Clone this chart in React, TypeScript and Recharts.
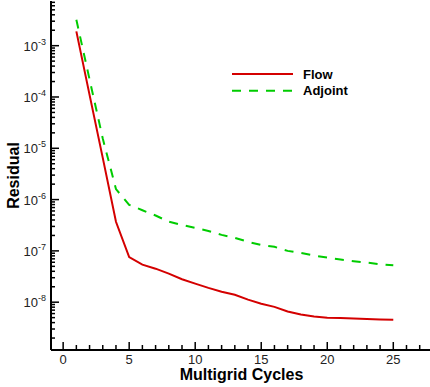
import React from 'react';
import { LineChart, Line, XAxis, YAxis, Label } from 'recharts';

const W = 430;
const H = 387;

const cycles = [1, 2, 3, 4, 5, 6, 7, 8, 9, 10, 11, 12, 13, 14, 15, 16, 17, 18, 19, 20, 21, 22, 23, 24, 25];
const flowResidual = [
  1.9e-3, 1.1e-4, 6.5e-6, 3.7e-7, 7.6e-8, 5.4e-8, 4.5e-8, 3.6e-8, 2.8e-8, 2.3e-8,
  1.9e-8, 1.6e-8, 1.4e-8, 1.12e-8, 9.3e-9, 8.1e-9, 6.6e-9, 5.75e-9, 5.25e-9, 5.0e-9,
  4.9e-9, 4.8e-9, 4.7e-9, 4.6e-9, 4.55e-9,
];
const adjointResidual = [
  3.2e-3, 2.2e-4, 1.55e-5, 1.6e-6, 7.9e-7, 6.2e-7, 4.9e-7, 3.7e-7, 3.2e-7, 2.8e-7,
  2.45e-7, 2.05e-7, 1.8e-7, 1.5e-7, 1.3e-7, 1.2e-7, 1.0e-7, 9.1e-8, 8.1e-8, 7.4e-8,
  6.8e-8, 6.3e-8, 5.9e-8, 5.5e-8, 5.25e-8,
];

const xTicks = [0, 1, 2, 3, 4, 5, 6, 7, 8, 9, 10, 11, 12, 13, 14, 15, 16, 17, 18, 19, 20, 21, 22, 23, 24, 25, 26, 27];
const xLabelEvery = 5;
const decades = [-9, -8, -7, -6, -5, -4, -3];
const mantissas = [1, 2, 3, 4, 5, 6, 7, 8, 9];

const X_DOMAIN: [number, number] = [-0.92, 27.78];
const Y_DOMAIN: [number, number] = [Math.pow(10, -8.932), Math.pow(10, -2.129)];

const yTicks: number[] = [];
decades.forEach((d) => {
  mantissas.forEach((m) => {
    const v = m * Math.pow(10, d);
    if (v >= Y_DOMAIN[0] && v <= Y_DOMAIN[1]) yTicks.push(v);
  });
});

const series = [
  { key: 'flow', name: 'Flow', color: '#d40000', dash: undefined as string | undefined },
  { key: 'adjoint', name: 'Adjoint', color: '#00cc00', dash: '9 8' },
];

const data = cycles.map((c, i) => ({ cycle: c, flow: flowResidual[i], adjoint: adjointResidual[i] }));

const FONT = '"Liberation Sans", Arial, sans-serif';

function XTick(props: any) {
  const { x, y, payload } = props;
  const v = payload.value as number;
  const major = v % xLabelEvery === 0;
  return (
    <g>
      <line x1={x} x2={x} y1={y} y2={y - (major ? 8 : 5)} stroke="#000" strokeWidth={1.5} />
      {major && (
        <text x={x} y={y + 14} textAnchor="middle" fontFamily={FONT} fontSize={13} fill="#222">
          {v}
        </text>
      )}
    </g>
  );
}

function YTick(props: any) {
  const { x, y, payload } = props;
  const v = payload.value as number;
  const lg = Math.log10(v);
  const major = Math.abs(lg - Math.round(lg)) < 1e-6;
  return (
    <g>
      <line x1={x} x2={x + (major ? 8 : 4)} y1={y} y2={y} stroke="#000" strokeWidth={1.5} />
      {major && (
        <text x={x - 5} y={y + 5} textAnchor="end" fontFamily={FONT} fontSize={13} fill="#222">
          10
          <tspan dy={-6} fontSize={9}>{String(Math.round(lg))}</tspan>
        </text>
      )}
    </g>
  );
}

function XTitle(props: any) {
  const vb = props.viewBox || { x: 51, y: 350, width: 379, height: 37 };
  return (
    <text x={vb.x + vb.width / 2 + 1} y={vb.y + 30} textAnchor="middle" fontFamily={FONT} fontWeight="bold" fontSize={16} fill="#000">
      Multigrid Cycles
    </text>
  );
}

function YTitle(props: any) {
  const vb = props.viewBox || { x: 0, y: 1, width: 51, height: 349 };
  const cx = 18.5;
  const cy = vb.y + vb.height / 2;
  return (
    <text x={cx} y={cy} transform={`rotate(-90, ${cx}, ${cy})`} textAnchor="middle" fontFamily={FONT} fontWeight="bold" fontSize={16} fill="#000">
      Residual
    </text>
  );
}

export default function App() {
  return (
    <div style={{ position: 'absolute', left: 0, top: 0, width: W, height: H, background: '#fff' }}>
      <LineChart width={W} height={H} data={data} margin={{ top: 1, right: 0, bottom: 0, left: 0 }}>
        <XAxis
          dataKey="cycle"
          type="number"
          domain={X_DOMAIN}
          allowDataOverflow
          ticks={xTicks}
          interval={0}
          tickSize={0}
          tickMargin={0}
          tickLine={false}
          tick={(p: any) => <XTick {...p} />}
          axisLine={{ stroke: '#000', strokeWidth: 2 }}
          height={37}
        >
          <Label content={XTitle} />
        </XAxis>
        <XAxis
          xAxisId="top"
          orientation="top"
          type="number"
          domain={X_DOMAIN}
          allowDataOverflow
          height={0}
          tick={false}
          tickLine={false}
          axisLine={{ stroke: '#333', strokeWidth: 2 }}
        />
        <YAxis
          type="number"
          scale="log"
          domain={Y_DOMAIN}
          allowDataOverflow
          ticks={yTicks}
          interval={0}
          width={51}
          tickSize={0}
          tickMargin={0}
          tickLine={false}
          tick={(p: any) => <YTick {...p} />}
          axisLine={{ stroke: '#000', strokeWidth: 2 }}
        >
          <Label content={YTitle} />
        </YAxis>
        {series.map((s) => (
          <Line
            key={s.key}
            type="linear"
            dataKey={s.key}
            name={s.name}
            stroke={s.color}
            strokeWidth={2}
            strokeDasharray={s.dash}
            dot={false}
            activeDot={false}
            isAnimationActive={false}
          />
        ))}
      </LineChart>
      <svg width={W} height={H} style={{ position: 'absolute', left: 0, top: 0, pointerEvents: 'none' }}>
        {series.map((s, i) => (
          <g key={s.key}>
            <line x1={232} x2={293} y1={74 + i * 16.7} y2={74 + i * 16.7} stroke={s.color} strokeWidth={2} strokeDasharray={s.dash} />
            <text x={303} y={78.5 + i * 16.7} fontFamily={FONT} fontWeight="bold" fontSize={13} fill="#000">
              {s.name}
            </text>
          </g>
        ))}
      </svg>
    </div>
  );
}
